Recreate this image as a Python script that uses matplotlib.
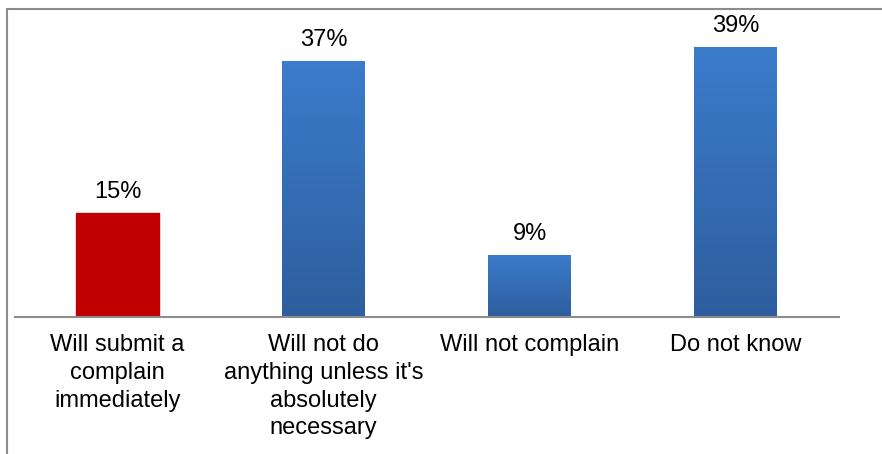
import numpy as np
import matplotlib
matplotlib.use('Agg')
import matplotlib.pyplot as plt
from matplotlib.colors import LinearSegmentedColormap
from matplotlib.patches import Rectangle

categories = ["Will submit a\ncomplain\nimmediately",
              "Will not do\nanything unless it's\nabsolutely\nnecessary",
              "Will not complain",
              "Do not know"]
values = [15, 37, 9, 39]
labels = ["15%", "37%", "9%", "39%"]

plt.rcParams['font.family'] = ['Liberation Sans', 'DejaVu Sans']

fig = plt.figure(figsize=(8.82, 4.54), dpi=100)
ax = fig.add_axes([14.5 / 882, 0.3018, 824 / 882, 0.6106])

x = np.arange(len(categories))
bars = ax.bar(x, values, width=0.4, color="#3570b8", zorder=2)

# gradient fill for the blue bars, solid red for the first
blue = LinearSegmentedColormap.from_list("blue", ["#2e5e9e", "#3b7ccc"])
grad = np.linspace(0, 1, 256).reshape(-1, 1)
for i, b in enumerate(bars):
    if i == 0:
        b.set_color("#c00000")
        continue
    b.set_facecolor("none")
    x0, w, h = b.get_x(), b.get_width(), b.get_height()
    im = ax.imshow(grad, cmap=blue, origin="lower", aspect="auto",
                   extent=[x0, x0 + w, 0, h], zorder=2)
    im.set_clip_path(b)

for xi, v, lab in zip(x, values, labels):
    ax.text(xi, v + 3.0, lab, ha="center", va="center", fontsize=17, color="#000000")

ax.set_xlim(-0.5, 3.5)
ax.set_ylim(0, 40)
ax.set_xticks(x)
ax.set_xticklabels(categories, fontsize=17, linespacing=1.35)
ax.tick_params(axis="x", length=0, pad=12)
ax.set_yticks([])
for s in ["top", "right", "left"]:
    ax.spines[s].set_visible(False)
ax.spines["bottom"].set_color("#8c8c8c")
ax.spines["bottom"].set_linewidth(1.5)
ax.patch.set_alpha(0)

# outer chart frame
fig.patches.append(Rectangle((6.5 / 882, -0.1), 1.2, (454 - 9.5) / 454 + 0.1,
                             transform=fig.transFigure, fill=False,
                             edgecolor="#8c8c8c", linewidth=1.5, zorder=0))

fig.savefig("out.png", dpi=100)
